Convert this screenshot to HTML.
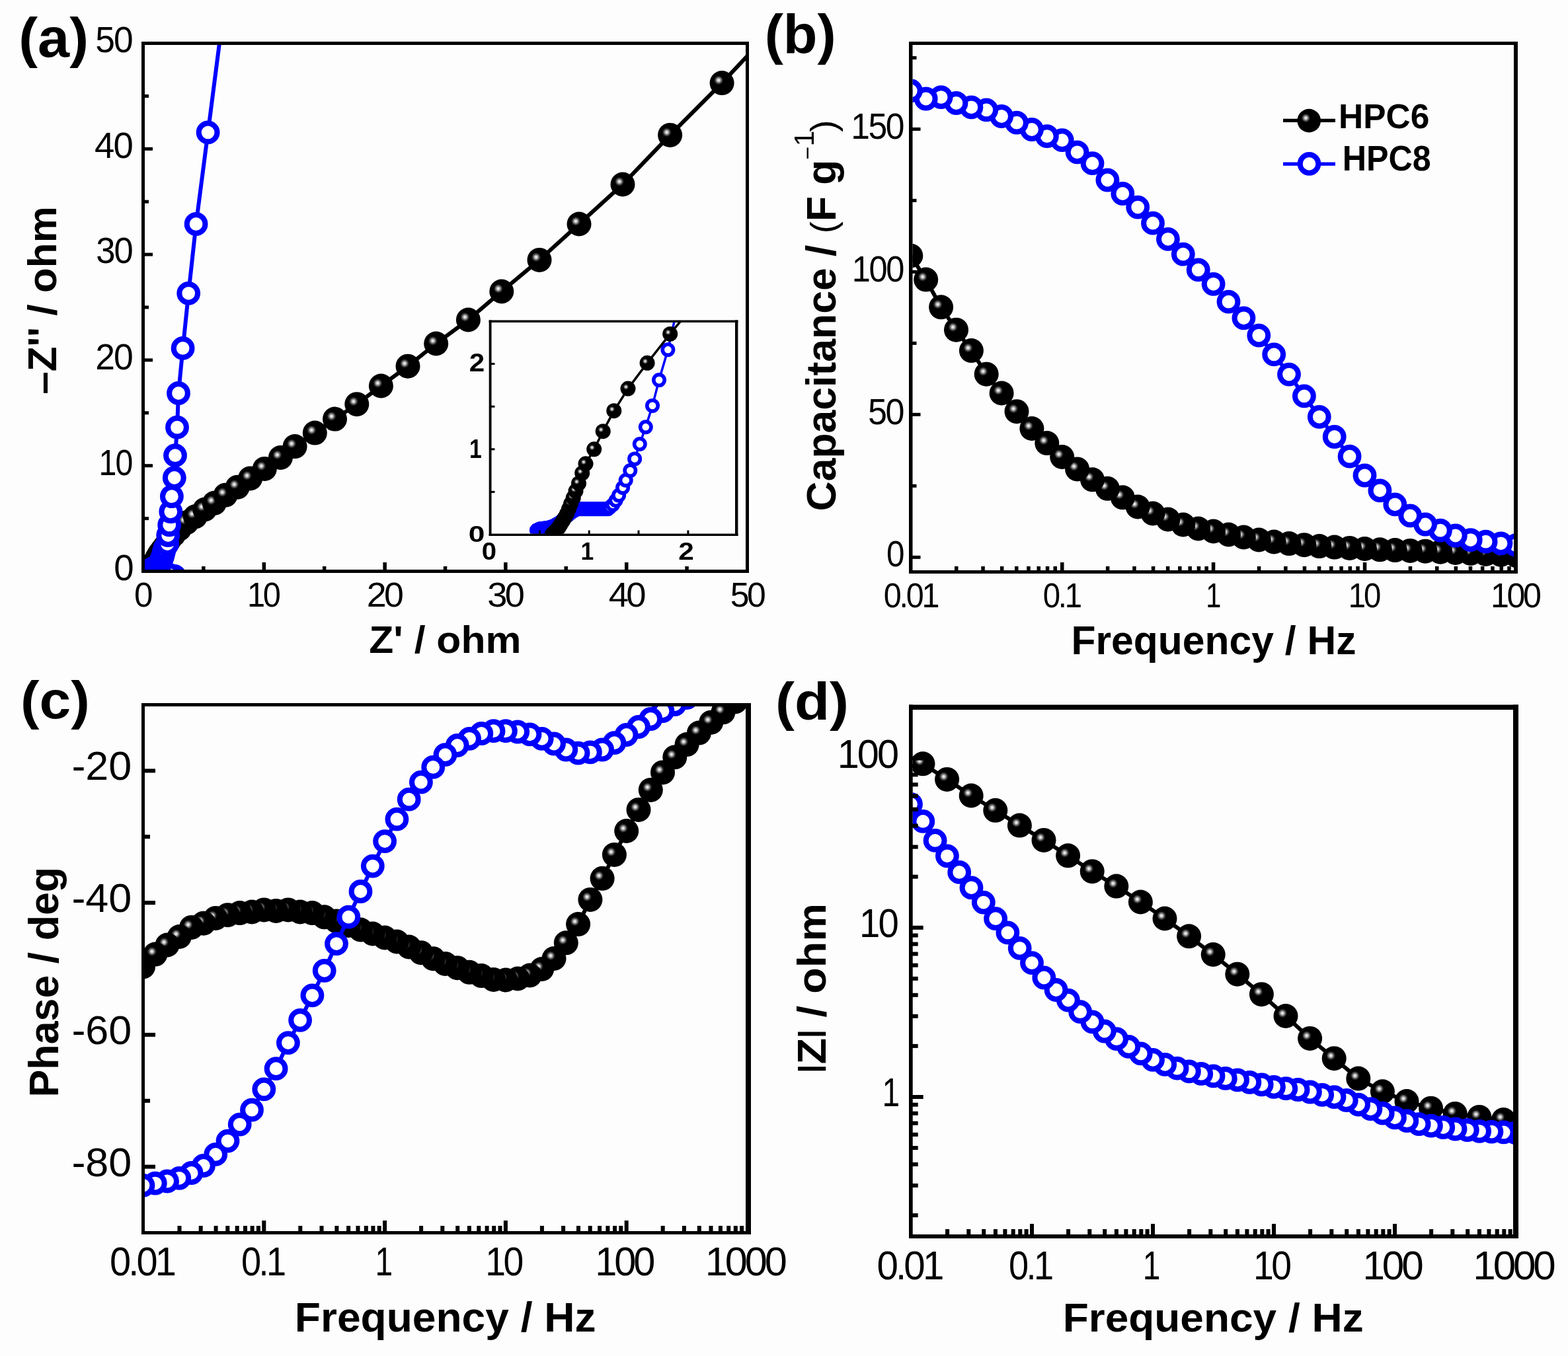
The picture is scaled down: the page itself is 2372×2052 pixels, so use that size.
<!DOCTYPE html><html><head><meta charset="utf-8"><title>EIS figure</title><style>html,body{margin:0;padding:0;background:#fdfdfd;}svg{display:block;} text{font-family:"Liberation Sans", Arial, sans-serif;fill:#000;}</style></head><body>
<svg xmlns="http://www.w3.org/2000/svg" width="2372" height="2052" viewBox="0 0 2372 2052">
<defs><radialGradient id="gb" cx="0.365" cy="0.385" r="0.2" fx="0.365" fy="0.385"><stop offset="0" stop-color="#ffffff"/><stop offset="0.2" stop-color="#dcdcdc"/><stop offset="0.5" stop-color="#7a7a7a"/><stop offset="0.8" stop-color="#1c1c1c"/><stop offset="1" stop-color="#000"/></radialGradient><clipPath id="ca"><rect x="219" y="68" width="909" height="794"/></clipPath><clipPath id="ci"><rect x="743.5" y="488" width="368.5" height="319.6"/></clipPath><clipPath id="cb"><rect x="1380.5" y="68" width="909.5" height="795"/></clipPath><clipPath id="cc"><rect x="219" y="1069" width="909" height="794"/></clipPath><clipPath id="cd"><rect x="1380.7" y="1074" width="908.3" height="794"/></clipPath></defs>
<rect width="2372" height="2052" fill="#fdfdfd"/>
<g clip-path="url(#ca)"><polyline points="227.9,864.5 228.1,864.3 228.3,864.2 228.5,863.9 228.7,863.7 229,863.4 229.3,863 229.6,862.5 229.9,861.9 230.3,861.3 230.7,860.6 231,859.7 231.4,858.7 231.9,857.6 232.3,856.4 232.9,854.9 233.5,853 234.1,851.2 235.7,848.5 237.3,845.2 239.4,841.3 242,837.2 245.5,832.4 249.7,826.9 255.5,818 262.5,809.5 271.5,800.5 282.2,790.8 295.3,781.8 309.8,771 324.3,761.3 341.2,749.2 359.3,737.2 378.6,723.9 400.3,709.4 424.4,692.5 446.1,675.6 476.3,655.1 506.5,634.1 539.8,611.7 576.4,584 617,554.2 659.7,520 708.4,484 758.8,441 816,393.4 876,339 942,279 1013.6,204.4 1092.1,125.6 1135,80" fill="none" stroke="#000" stroke-width="6" stroke-linejoin="round" stroke-linecap="round"/><circle cx="227.9" cy="864.5" r="18.5" fill="url(#gb)"/><circle cx="228.1" cy="864.3" r="18.5" fill="url(#gb)"/><circle cx="228.3" cy="864.2" r="18.5" fill="url(#gb)"/><circle cx="228.5" cy="863.9" r="18.5" fill="url(#gb)"/><circle cx="228.7" cy="863.7" r="18.5" fill="url(#gb)"/><circle cx="229" cy="863.4" r="18.5" fill="url(#gb)"/><circle cx="229.3" cy="863" r="18.5" fill="url(#gb)"/><circle cx="229.6" cy="862.5" r="18.5" fill="url(#gb)"/><circle cx="229.9" cy="861.9" r="18.5" fill="url(#gb)"/><circle cx="230.3" cy="861.3" r="18.5" fill="url(#gb)"/><circle cx="230.7" cy="860.6" r="18.5" fill="url(#gb)"/><circle cx="231" cy="859.7" r="18.5" fill="url(#gb)"/><circle cx="231.4" cy="858.7" r="18.5" fill="url(#gb)"/><circle cx="231.9" cy="857.6" r="18.5" fill="url(#gb)"/><circle cx="232.3" cy="856.4" r="18.5" fill="url(#gb)"/><circle cx="232.9" cy="854.9" r="18.5" fill="url(#gb)"/><circle cx="233.5" cy="853" r="18.5" fill="url(#gb)"/><circle cx="234.1" cy="851.2" r="18.5" fill="url(#gb)"/><circle cx="235.7" cy="848.5" r="18.5" fill="url(#gb)"/><circle cx="237.3" cy="845.2" r="18.5" fill="url(#gb)"/><circle cx="239.4" cy="841.3" r="18.5" fill="url(#gb)"/><circle cx="242" cy="837.2" r="18.5" fill="url(#gb)"/><circle cx="245.5" cy="832.4" r="18.5" fill="url(#gb)"/><circle cx="249.7" cy="826.9" r="18.5" fill="url(#gb)"/><circle cx="255.5" cy="818" r="18.5" fill="url(#gb)"/><circle cx="262.5" cy="809.5" r="18.5" fill="url(#gb)"/><circle cx="271.5" cy="800.5" r="18.5" fill="url(#gb)"/><circle cx="282.2" cy="790.8" r="18.5" fill="url(#gb)"/><circle cx="295.3" cy="781.8" r="18.5" fill="url(#gb)"/><circle cx="309.8" cy="771" r="18.5" fill="url(#gb)"/><circle cx="324.3" cy="761.3" r="18.5" fill="url(#gb)"/><circle cx="341.2" cy="749.2" r="18.5" fill="url(#gb)"/><circle cx="359.3" cy="737.2" r="18.5" fill="url(#gb)"/><circle cx="378.6" cy="723.9" r="18.5" fill="url(#gb)"/><circle cx="400.3" cy="709.4" r="18.5" fill="url(#gb)"/><circle cx="424.4" cy="692.5" r="18.5" fill="url(#gb)"/><circle cx="446.1" cy="675.6" r="18.5" fill="url(#gb)"/><circle cx="476.3" cy="655.1" r="18.5" fill="url(#gb)"/><circle cx="506.5" cy="634.1" r="18.5" fill="url(#gb)"/><circle cx="539.8" cy="611.7" r="18.5" fill="url(#gb)"/><circle cx="576.4" cy="584" r="18.5" fill="url(#gb)"/><circle cx="617" cy="554.2" r="18.5" fill="url(#gb)"/><circle cx="659.7" cy="520" r="18.5" fill="url(#gb)"/><circle cx="708.4" cy="484" r="18.5" fill="url(#gb)"/><circle cx="758.8" cy="441" r="18.5" fill="url(#gb)"/><circle cx="816" cy="393.4" r="18.5" fill="url(#gb)"/><circle cx="876" cy="339" r="18.5" fill="url(#gb)"/><circle cx="942" cy="279" r="18.5" fill="url(#gb)"/><circle cx="1013.6" cy="204.4" r="18.5" fill="url(#gb)"/><circle cx="1092.1" cy="125.6" r="18.5" fill="url(#gb)"/><polyline points="264,872 256.7,870.1 225.1,863.7 225.3,863.6 225.5,863.5 225.6,863.5 225.8,863.4 226.2,863.4 226.6,863.3 227.1,863.2 227.7,863.1 228.2,862.9 228.7,862.6 229.3,862.3 229.8,861.8 230.4,861.3 230.9,860.8 231.5,860.3 232,860 232.4,859.7 232.8,859.7 233.1,859.7 233.5,859.7 233.9,859.7 234.2,859.7 234.6,859.7 235,859.7 235.3,859.7 235.7,859.7 236.1,859.7 236.4,859.7 236.8,859.7 237.2,859.7 237.5,859.7 237.9,859.7 238.3,859.7 238.6,859.4 239.2,858.9 239.7,858.1 240.3,857.1 241,855.7 241.6,854.3 242.4,852.5 243.2,850.3 244.1,847.6 245.2,844.4 246.5,840.4 247.7,835.6 249.3,829.9 253.2,823 254.2,810 256.2,794.4 258.3,774.3 259.9,751.2 263.8,723 265,689.2 268,646.7 270,595 276.6,526.9 285.2,443.8 296.6,339 314.6,200.4 336.5,30" fill="none" stroke="#0000ff" stroke-width="6" stroke-linejoin="round" stroke-linecap="round"/><circle cx="264" cy="872" r="13.9" fill="#fff" stroke="#0000ff" stroke-width="8"/><circle cx="256.7" cy="870.1" r="13.9" fill="#fff" stroke="#0000ff" stroke-width="8"/><circle cx="225.1" cy="863.7" r="13.9" fill="#fff" stroke="#0000ff" stroke-width="8"/><circle cx="225.3" cy="863.6" r="13.9" fill="#fff" stroke="#0000ff" stroke-width="8"/><circle cx="225.5" cy="863.5" r="13.9" fill="#fff" stroke="#0000ff" stroke-width="8"/><circle cx="225.6" cy="863.5" r="13.9" fill="#fff" stroke="#0000ff" stroke-width="8"/><circle cx="225.8" cy="863.4" r="13.9" fill="#fff" stroke="#0000ff" stroke-width="8"/><circle cx="226.2" cy="863.4" r="13.9" fill="#fff" stroke="#0000ff" stroke-width="8"/><circle cx="226.6" cy="863.3" r="13.9" fill="#fff" stroke="#0000ff" stroke-width="8"/><circle cx="227.1" cy="863.2" r="13.9" fill="#fff" stroke="#0000ff" stroke-width="8"/><circle cx="227.7" cy="863.1" r="13.9" fill="#fff" stroke="#0000ff" stroke-width="8"/><circle cx="228.2" cy="862.9" r="13.9" fill="#fff" stroke="#0000ff" stroke-width="8"/><circle cx="228.7" cy="862.6" r="13.9" fill="#fff" stroke="#0000ff" stroke-width="8"/><circle cx="229.3" cy="862.3" r="13.9" fill="#fff" stroke="#0000ff" stroke-width="8"/><circle cx="229.8" cy="861.8" r="13.9" fill="#fff" stroke="#0000ff" stroke-width="8"/><circle cx="230.4" cy="861.3" r="13.9" fill="#fff" stroke="#0000ff" stroke-width="8"/><circle cx="230.9" cy="860.8" r="13.9" fill="#fff" stroke="#0000ff" stroke-width="8"/><circle cx="231.5" cy="860.3" r="13.9" fill="#fff" stroke="#0000ff" stroke-width="8"/><circle cx="232" cy="860" r="13.9" fill="#fff" stroke="#0000ff" stroke-width="8"/><circle cx="232.4" cy="859.7" r="13.9" fill="#fff" stroke="#0000ff" stroke-width="8"/><circle cx="232.8" cy="859.7" r="13.9" fill="#fff" stroke="#0000ff" stroke-width="8"/><circle cx="233.1" cy="859.7" r="13.9" fill="#fff" stroke="#0000ff" stroke-width="8"/><circle cx="233.5" cy="859.7" r="13.9" fill="#fff" stroke="#0000ff" stroke-width="8"/><circle cx="233.9" cy="859.7" r="13.9" fill="#fff" stroke="#0000ff" stroke-width="8"/><circle cx="234.2" cy="859.7" r="13.9" fill="#fff" stroke="#0000ff" stroke-width="8"/><circle cx="234.6" cy="859.7" r="13.9" fill="#fff" stroke="#0000ff" stroke-width="8"/><circle cx="235" cy="859.7" r="13.9" fill="#fff" stroke="#0000ff" stroke-width="8"/><circle cx="235.3" cy="859.7" r="13.9" fill="#fff" stroke="#0000ff" stroke-width="8"/><circle cx="235.7" cy="859.7" r="13.9" fill="#fff" stroke="#0000ff" stroke-width="8"/><circle cx="236.1" cy="859.7" r="13.9" fill="#fff" stroke="#0000ff" stroke-width="8"/><circle cx="236.4" cy="859.7" r="13.9" fill="#fff" stroke="#0000ff" stroke-width="8"/><circle cx="236.8" cy="859.7" r="13.9" fill="#fff" stroke="#0000ff" stroke-width="8"/><circle cx="237.2" cy="859.7" r="13.9" fill="#fff" stroke="#0000ff" stroke-width="8"/><circle cx="237.5" cy="859.7" r="13.9" fill="#fff" stroke="#0000ff" stroke-width="8"/><circle cx="237.9" cy="859.7" r="13.9" fill="#fff" stroke="#0000ff" stroke-width="8"/><circle cx="238.3" cy="859.7" r="13.9" fill="#fff" stroke="#0000ff" stroke-width="8"/><circle cx="238.6" cy="859.4" r="13.9" fill="#fff" stroke="#0000ff" stroke-width="8"/><circle cx="239.2" cy="858.9" r="13.9" fill="#fff" stroke="#0000ff" stroke-width="8"/><circle cx="239.7" cy="858.1" r="13.9" fill="#fff" stroke="#0000ff" stroke-width="8"/><circle cx="240.3" cy="857.1" r="13.9" fill="#fff" stroke="#0000ff" stroke-width="8"/><circle cx="241" cy="855.7" r="13.9" fill="#fff" stroke="#0000ff" stroke-width="8"/><circle cx="241.6" cy="854.3" r="13.9" fill="#fff" stroke="#0000ff" stroke-width="8"/><circle cx="242.4" cy="852.5" r="13.9" fill="#fff" stroke="#0000ff" stroke-width="8"/><circle cx="243.2" cy="850.3" r="13.9" fill="#fff" stroke="#0000ff" stroke-width="8"/><circle cx="244.1" cy="847.6" r="13.9" fill="#fff" stroke="#0000ff" stroke-width="8"/><circle cx="245.2" cy="844.4" r="13.9" fill="#fff" stroke="#0000ff" stroke-width="8"/><circle cx="246.5" cy="840.4" r="13.9" fill="#fff" stroke="#0000ff" stroke-width="8"/><circle cx="247.7" cy="835.6" r="13.9" fill="#fff" stroke="#0000ff" stroke-width="8"/><circle cx="249.3" cy="829.9" r="13.9" fill="#fff" stroke="#0000ff" stroke-width="8"/><circle cx="253.2" cy="823" r="13.9" fill="#fff" stroke="#0000ff" stroke-width="8"/><circle cx="254.2" cy="810" r="13.9" fill="#fff" stroke="#0000ff" stroke-width="8"/><circle cx="256.2" cy="794.4" r="13.9" fill="#fff" stroke="#0000ff" stroke-width="8"/><circle cx="258.3" cy="774.3" r="13.9" fill="#fff" stroke="#0000ff" stroke-width="8"/><circle cx="259.9" cy="751.2" r="13.9" fill="#fff" stroke="#0000ff" stroke-width="8"/><circle cx="263.8" cy="723" r="13.9" fill="#fff" stroke="#0000ff" stroke-width="8"/><circle cx="265" cy="689.2" r="13.9" fill="#fff" stroke="#0000ff" stroke-width="8"/><circle cx="268" cy="646.7" r="13.9" fill="#fff" stroke="#0000ff" stroke-width="8"/><circle cx="270" cy="595" r="13.9" fill="#fff" stroke="#0000ff" stroke-width="8"/><circle cx="276.6" cy="526.9" r="13.9" fill="#fff" stroke="#0000ff" stroke-width="8"/><circle cx="285.2" cy="443.8" r="13.9" fill="#fff" stroke="#0000ff" stroke-width="8"/><circle cx="296.6" cy="339" r="13.9" fill="#fff" stroke="#0000ff" stroke-width="8"/><circle cx="314.6" cy="200.4" r="13.9" fill="#fff" stroke="#0000ff" stroke-width="8"/><circle cx="336.5" cy="30" r="13.9" fill="#fff" stroke="#0000ff" stroke-width="8"/></g>
<rect x="741.5" y="486" width="372.5" height="323" fill="#fdfdfd"/>
<g clip-path="url(#ci)"><polyline points="811.9,802.5 813.4,801.9 814.9,801.2 816.4,800.6 817.8,800 820.8,800 823.8,799.3 828.3,798.7 832.8,797.4 837.3,796.1 841.8,793.5 846.3,790.9 850.8,787 855.3,783.2 859.8,779.3 864.3,775.4 868.7,772.8 871.7,770.2 874.7,770.2 877.7,770.2 880.7,770.2 883.7,770.2 886.7,770.2 889.7,770.2 892.7,770.2 895.7,770.2 898.7,770.2 901.7,770.2 904.7,770.2 907.7,770.2 910.7,770.2 913.7,770.2 916.6,770.2 919.6,770.2 922.6,767.7 927.1,763.8 931.6,757.3 936.1,749.6 942.1,737.9 946.7,726.7 953.3,712.1 960.1,694.4 967.8,672 976.8,646.2 987,613.9 997,575.1 1010.4,529.2 1025.9,460.2" fill="none" stroke="#0000ff" stroke-width="3.5" stroke-linejoin="round" stroke-linecap="round"/><circle cx="811.9" cy="802.5" r="8.2" fill="#fff" stroke="#0000ff" stroke-width="5.6"/><circle cx="813.4" cy="801.9" r="8.2" fill="#fff" stroke="#0000ff" stroke-width="5.6"/><circle cx="814.9" cy="801.2" r="8.2" fill="#fff" stroke="#0000ff" stroke-width="5.6"/><circle cx="816.4" cy="800.6" r="8.2" fill="#fff" stroke="#0000ff" stroke-width="5.6"/><circle cx="817.8" cy="800" r="8.2" fill="#fff" stroke="#0000ff" stroke-width="5.6"/><circle cx="820.8" cy="800" r="8.2" fill="#fff" stroke="#0000ff" stroke-width="5.6"/><circle cx="823.8" cy="799.3" r="8.2" fill="#fff" stroke="#0000ff" stroke-width="5.6"/><circle cx="828.3" cy="798.7" r="8.2" fill="#fff" stroke="#0000ff" stroke-width="5.6"/><circle cx="832.8" cy="797.4" r="8.2" fill="#fff" stroke="#0000ff" stroke-width="5.6"/><circle cx="837.3" cy="796.1" r="8.2" fill="#fff" stroke="#0000ff" stroke-width="5.6"/><circle cx="841.8" cy="793.5" r="8.2" fill="#fff" stroke="#0000ff" stroke-width="5.6"/><circle cx="846.3" cy="790.9" r="8.2" fill="#fff" stroke="#0000ff" stroke-width="5.6"/><circle cx="850.8" cy="787" r="8.2" fill="#fff" stroke="#0000ff" stroke-width="5.6"/><circle cx="855.3" cy="783.2" r="8.2" fill="#fff" stroke="#0000ff" stroke-width="5.6"/><circle cx="859.8" cy="779.3" r="8.2" fill="#fff" stroke="#0000ff" stroke-width="5.6"/><circle cx="864.3" cy="775.4" r="8.2" fill="#fff" stroke="#0000ff" stroke-width="5.6"/><circle cx="868.7" cy="772.8" r="8.2" fill="#fff" stroke="#0000ff" stroke-width="5.6"/><circle cx="871.7" cy="770.2" r="8.2" fill="#fff" stroke="#0000ff" stroke-width="5.6"/><circle cx="874.7" cy="770.2" r="8.2" fill="#fff" stroke="#0000ff" stroke-width="5.6"/><circle cx="877.7" cy="770.2" r="8.2" fill="#fff" stroke="#0000ff" stroke-width="5.6"/><circle cx="880.7" cy="770.2" r="8.2" fill="#fff" stroke="#0000ff" stroke-width="5.6"/><circle cx="883.7" cy="770.2" r="8.2" fill="#fff" stroke="#0000ff" stroke-width="5.6"/><circle cx="886.7" cy="770.2" r="8.2" fill="#fff" stroke="#0000ff" stroke-width="5.6"/><circle cx="889.7" cy="770.2" r="8.2" fill="#fff" stroke="#0000ff" stroke-width="5.6"/><circle cx="892.7" cy="770.2" r="8.2" fill="#fff" stroke="#0000ff" stroke-width="5.6"/><circle cx="895.7" cy="770.2" r="8.2" fill="#fff" stroke="#0000ff" stroke-width="5.6"/><circle cx="898.7" cy="770.2" r="8.2" fill="#fff" stroke="#0000ff" stroke-width="5.6"/><circle cx="901.7" cy="770.2" r="8.2" fill="#fff" stroke="#0000ff" stroke-width="5.6"/><circle cx="904.7" cy="770.2" r="8.2" fill="#fff" stroke="#0000ff" stroke-width="5.6"/><circle cx="907.7" cy="770.2" r="8.2" fill="#fff" stroke="#0000ff" stroke-width="5.6"/><circle cx="910.7" cy="770.2" r="8.2" fill="#fff" stroke="#0000ff" stroke-width="5.6"/><circle cx="913.7" cy="770.2" r="8.2" fill="#fff" stroke="#0000ff" stroke-width="5.6"/><circle cx="916.6" cy="770.2" r="8.2" fill="#fff" stroke="#0000ff" stroke-width="5.6"/><circle cx="919.6" cy="770.2" r="8.2" fill="#fff" stroke="#0000ff" stroke-width="5.6"/><circle cx="922.6" cy="767.7" r="8.2" fill="#fff" stroke="#0000ff" stroke-width="5.6"/><circle cx="927.1" cy="763.8" r="8.2" fill="#fff" stroke="#0000ff" stroke-width="5.6"/><circle cx="931.6" cy="757.3" r="8.2" fill="#fff" stroke="#0000ff" stroke-width="5.6"/><circle cx="936.1" cy="749.6" r="8.2" fill="#fff" stroke="#0000ff" stroke-width="5.6"/><circle cx="942.1" cy="737.9" r="8.2" fill="#fff" stroke="#0000ff" stroke-width="5.6"/><circle cx="946.7" cy="726.7" r="8.2" fill="#fff" stroke="#0000ff" stroke-width="5.6"/><circle cx="953.3" cy="712.1" r="8.2" fill="#fff" stroke="#0000ff" stroke-width="5.6"/><circle cx="960.1" cy="694.4" r="8.2" fill="#fff" stroke="#0000ff" stroke-width="5.6"/><circle cx="967.8" cy="672" r="8.2" fill="#fff" stroke="#0000ff" stroke-width="5.6"/><circle cx="976.8" cy="646.2" r="8.2" fill="#fff" stroke="#0000ff" stroke-width="5.6"/><circle cx="987" cy="613.9" r="8.2" fill="#fff" stroke="#0000ff" stroke-width="5.6"/><circle cx="997" cy="575.1" r="8.2" fill="#fff" stroke="#0000ff" stroke-width="5.6"/><circle cx="1010.4" cy="529.2" r="8.2" fill="#fff" stroke="#0000ff" stroke-width="5.6"/><circle cx="1025.9" cy="460.2" r="8.2" fill="#fff" stroke="#0000ff" stroke-width="5.6"/><polyline points="835.1,809 836.6,807.7 838.1,806.4 839.6,804.5 841.8,802.5 844,800 846.3,796.7 848.5,792.9 851.5,788.3 854.5,783.2 857.5,777.3 860.5,770.2 863.5,762.5 867.2,753.4 871,743.1 875.5,731.5 880.7,716 886,701.8 898.7,679.8 912.2,652.7 928.8,621.7 950,588.1 979.1,549.3 1013.7,505.4 1052.9,457.6" fill="none" stroke="#000" stroke-width="3.5" stroke-linejoin="round" stroke-linecap="round"/><circle cx="835.1" cy="809" r="11.5" fill="url(#gb)"/><circle cx="836.6" cy="807.7" r="11.5" fill="url(#gb)"/><circle cx="838.1" cy="806.4" r="11.5" fill="url(#gb)"/><circle cx="839.6" cy="804.5" r="11.5" fill="url(#gb)"/><circle cx="841.8" cy="802.5" r="11.5" fill="url(#gb)"/><circle cx="844" cy="800" r="11.5" fill="url(#gb)"/><circle cx="846.3" cy="796.7" r="11.5" fill="url(#gb)"/><circle cx="848.5" cy="792.9" r="11.5" fill="url(#gb)"/><circle cx="851.5" cy="788.3" r="11.5" fill="url(#gb)"/><circle cx="854.5" cy="783.2" r="11.5" fill="url(#gb)"/><circle cx="857.5" cy="777.3" r="11.5" fill="url(#gb)"/><circle cx="860.5" cy="770.2" r="11.5" fill="url(#gb)"/><circle cx="863.5" cy="762.5" r="11.5" fill="url(#gb)"/><circle cx="867.2" cy="753.4" r="11.5" fill="url(#gb)"/><circle cx="871" cy="743.1" r="11.5" fill="url(#gb)"/><circle cx="875.5" cy="731.5" r="11.5" fill="url(#gb)"/><circle cx="880.7" cy="716" r="11.5" fill="url(#gb)"/><circle cx="886" cy="701.8" r="11.5" fill="url(#gb)"/><circle cx="898.7" cy="679.8" r="11.5" fill="url(#gb)"/><circle cx="912.2" cy="652.7" r="11.5" fill="url(#gb)"/><circle cx="928.8" cy="621.7" r="11.5" fill="url(#gb)"/><circle cx="950" cy="588.1" r="11.5" fill="url(#gb)"/><circle cx="979.1" cy="549.3" r="11.5" fill="url(#gb)"/><circle cx="1013.7" cy="505.4" r="11.5" fill="url(#gb)"/><circle cx="1052.9" cy="457.6" r="11.5" fill="url(#gb)"/></g>
<g fill="#000"><rect x="739.7" y="484.5" width="376.70000000000005" height="3.5"/><rect x="739.7" y="807.6" width="376.70000000000005" height="3.3999999999999773"/><rect x="739.7" y="484.5" width="3.7999999999999545" height="326.5"/><rect x="1112" y="484.5" width="4.400000000000091" height="326.5"/></g>
<g fill="#000"><rect x="814.9" y="802.6" width="3" height="7"/><rect x="889.7" y="802.6" width="3" height="7"/><rect x="964.5" y="802.6" width="3" height="7"/><rect x="1039.4" y="802.6" width="3" height="7"/></g>
<g fill="#000"><rect x="741.5" y="742.9" width="7" height="3"/><rect x="741.5" y="678.3" width="7" height="3"/><rect x="741.5" y="613.7" width="7" height="3"/><rect x="741.5" y="549.1" width="7" height="3"/></g>
<g transform="matrix(1.0556,0,0,0.9926,-42.72,6.57)"><text x="741.5" y="847" text-anchor="middle" style="font-size:38px;font-weight:bold;">0</text></g>
<g transform="matrix(0.9333,0,0,0.9926,56.67,6.57)"><text x="891.2" y="847" text-anchor="middle" style="font-size:38px;font-weight:bold;">1</text></g>
<g transform="matrix(1.1167,0,0,0.9926,-124.20,6.57)"><text x="1040.9" y="847" text-anchor="middle" style="font-size:38px;font-weight:bold;">2</text></g>
<g transform="matrix(1.1667,0,0,0.9074,-120.67,75.52)"><text x="732" y="821" text-anchor="end" style="font-size:38px;font-weight:bold;">0</text></g>
<g transform="matrix(0.8889,0,0,1.0741,78.22,-50.26)"><text x="732" y="691.8" text-anchor="end" style="font-size:38px;font-weight:bold;">1</text></g>
<g transform="matrix(1.1111,0,0,1.0370,-80.11,-21.15)"><text x="732" y="562.6" text-anchor="end" style="font-size:38px;font-weight:bold;">2</text></g>
<g fill="#000"><rect x="214" y="63" width="919" height="5"/><rect x="214" y="862" width="919" height="5"/><rect x="214" y="63" width="5" height="804"/><rect x="1128" y="63" width="5" height="804"/></g>
<g fill="#000"><rect x="396.6" y="851" width="5.5" height="13"/><rect x="579.4" y="851" width="5.5" height="13"/><rect x="762.1" y="851" width="5.5" height="13"/><rect x="945" y="851" width="5.5" height="13"/></g>
<g fill="#000"><rect x="305.1" y="857" width="5.5" height="7"/><rect x="487.9" y="857" width="5.5" height="7"/><rect x="670.8" y="857" width="5.5" height="7"/><rect x="853.5" y="857" width="5.5" height="7"/><rect x="1036.3" y="857" width="5.5" height="7"/></g>
<g fill="#000"><rect x="217" y="702.2" width="14" height="5"/><rect x="217" y="542.4" width="14" height="5"/><rect x="217" y="382.6" width="14" height="5"/><rect x="217" y="222.8" width="14" height="5"/></g>
<g fill="#000"><rect x="217" y="782.1" width="8" height="5"/><rect x="217" y="622.3" width="8" height="5"/><rect x="217" y="462.5" width="8" height="5"/><rect x="217" y="302.7" width="8" height="5"/><rect x="217" y="142.9" width="8" height="5"/></g>
<g transform="matrix(0.9840,0,0,1.0111,2.50,-10.51)"><text x="216.5" y="918.5" text-anchor="middle" style="font-size:52px;font-weight:normal;letter-spacing:-3.5px;">0</text></g>
<g transform="matrix(0.9375,0,0,1.0111,23.43,-10.51)"><text x="399.3" y="918.5" text-anchor="middle" style="font-size:52px;font-weight:normal;letter-spacing:-3.5px;">10</text></g>
<g transform="matrix(1.0340,0,0,1.0111,-20.76,-10.51)"><text x="582.1" y="918.5" text-anchor="middle" style="font-size:52px;font-weight:normal;letter-spacing:-3.5px;">20</text></g>
<g transform="matrix(1.0440,0,0,1.0111,-34.85,-10.51)"><text x="764.9" y="918.5" text-anchor="middle" style="font-size:52px;font-weight:normal;letter-spacing:-3.5px;">30</text></g>
<g transform="matrix(1.0481,0,0,1.0111,-45.92,-10.51)"><text x="947.7" y="918.5" text-anchor="middle" style="font-size:52px;font-weight:normal;letter-spacing:-3.5px;">40</text></g>
<g transform="matrix(0.9960,0,0,1.0111,4.03,-10.51)"><text x="1130.5" y="918.5" text-anchor="middle" style="font-size:52px;font-weight:normal;letter-spacing:-3.5px;">50</text></g>
<g transform="matrix(1.0120,0,0,1.0378,-4.72,-33.02)"><text x="203" y="878" text-anchor="end" style="font-size:54px;font-weight:normal;letter-spacing:-2px;">0</text></g>
<g transform="matrix(0.8942,0,0,1.0378,18.17,-26.77)"><text x="203" y="718.2" text-anchor="end" style="font-size:54px;font-weight:normal;letter-spacing:-2px;">10</text></g>
<g transform="matrix(0.9906,0,0,1.0378,-1.38,-20.51)"><text x="203" y="558.4" text-anchor="end" style="font-size:54px;font-weight:normal;letter-spacing:-2px;">20</text></g>
<g transform="matrix(0.9722,0,0,1.0378,2.34,-15.30)"><text x="203" y="398.6" text-anchor="end" style="font-size:54px;font-weight:normal;letter-spacing:-2px;">30</text></g>
<g transform="matrix(1.0091,0,0,1.0378,-5.15,-9.04)"><text x="203" y="238.8" text-anchor="end" style="font-size:54px;font-weight:normal;letter-spacing:-2px;">40</text></g>
<g transform="matrix(0.9870,0,0,1.0378,-0.67,-2.79)"><text x="203" y="79" text-anchor="end" style="font-size:54px;font-weight:normal;letter-spacing:-2px;">50</text></g>
<g transform="matrix(1.0117,0,0,0.9545,-7.77,43.45)"><text x="559.5" y="989.6" text-anchor="start" style="font-size:60px;font-weight:bold;">Z' / ohm</text></g>
<g transform="matrix(1.0022,0,0,1.0175,-1.39,-9.21)"><text transform="translate(86,595.6) rotate(-90)" x="0" y="0" text-anchor="start" style="font-size:61px;font-weight:bold;">–Z'' / ohm</text></g>
<g transform="matrix(1.0309,0,0,0.9885,-4.71,-0.79)"><text x="31.9" y="87.5" text-anchor="start" style="font-size:84px;font-weight:bold;">(a)</text></g>
<g clip-path="url(#cb)"><polyline points="1377.8,387 1400.7,423.1 1423.6,464.8 1446.5,499.2 1469.4,530.6 1492.2,566.2 1515.1,595 1538,622.7 1560.9,648.5 1583.8,670.6 1606.7,691.5 1629.6,709.9 1652.5,725.8 1675.4,739.3 1698.3,752.8 1721.2,767 1744,777 1766.9,786 1789.8,794 1812.7,800 1835.6,804 1858.5,809 1881.4,813 1904.3,817 1927.2,820 1950,822.6 1972.9,824.7 1995.8,826.6 2018.7,828.1 2041.6,829.4 2064.5,830.5 2087.4,831.8 2110.3,832.6 2133.2,833.4 2156.1,834.2 2178.9,835.2 2201.8,836.5 2224.7,837.5 2247.6,838.5 2270.5,839.5 2293.4,840.5" fill="none" stroke="#000" stroke-width="6" stroke-linejoin="round" stroke-linecap="round"/><circle cx="2293.4" cy="840.5" r="18.5" fill="url(#gb)"/><circle cx="2270.5" cy="839.5" r="18.5" fill="url(#gb)"/><circle cx="2247.6" cy="838.5" r="18.5" fill="url(#gb)"/><circle cx="2224.7" cy="837.5" r="18.5" fill="url(#gb)"/><circle cx="2201.8" cy="836.5" r="18.5" fill="url(#gb)"/><circle cx="2178.9" cy="835.2" r="18.5" fill="url(#gb)"/><circle cx="2156.1" cy="834.2" r="18.5" fill="url(#gb)"/><circle cx="2133.2" cy="833.4" r="18.5" fill="url(#gb)"/><circle cx="2110.3" cy="832.6" r="18.5" fill="url(#gb)"/><circle cx="2087.4" cy="831.8" r="18.5" fill="url(#gb)"/><circle cx="2064.5" cy="830.5" r="18.5" fill="url(#gb)"/><circle cx="2041.6" cy="829.4" r="18.5" fill="url(#gb)"/><circle cx="2018.7" cy="828.1" r="18.5" fill="url(#gb)"/><circle cx="1995.8" cy="826.6" r="18.5" fill="url(#gb)"/><circle cx="1972.9" cy="824.7" r="18.5" fill="url(#gb)"/><circle cx="1950" cy="822.6" r="18.5" fill="url(#gb)"/><circle cx="1927.2" cy="820" r="18.5" fill="url(#gb)"/><circle cx="1904.3" cy="817" r="18.5" fill="url(#gb)"/><circle cx="1881.4" cy="813" r="18.5" fill="url(#gb)"/><circle cx="1858.5" cy="809" r="18.5" fill="url(#gb)"/><circle cx="1835.6" cy="804" r="18.5" fill="url(#gb)"/><circle cx="1812.7" cy="800" r="18.5" fill="url(#gb)"/><circle cx="1789.8" cy="794" r="18.5" fill="url(#gb)"/><circle cx="1766.9" cy="786" r="18.5" fill="url(#gb)"/><circle cx="1744" cy="777" r="18.5" fill="url(#gb)"/><circle cx="1721.2" cy="767" r="18.5" fill="url(#gb)"/><circle cx="1698.3" cy="752.8" r="18.5" fill="url(#gb)"/><circle cx="1675.4" cy="739.3" r="18.5" fill="url(#gb)"/><circle cx="1652.5" cy="725.8" r="18.5" fill="url(#gb)"/><circle cx="1629.6" cy="709.9" r="18.5" fill="url(#gb)"/><circle cx="1606.7" cy="691.5" r="18.5" fill="url(#gb)"/><circle cx="1583.8" cy="670.6" r="18.5" fill="url(#gb)"/><circle cx="1560.9" cy="648.5" r="18.5" fill="url(#gb)"/><circle cx="1538" cy="622.7" r="18.5" fill="url(#gb)"/><circle cx="1515.1" cy="595" r="18.5" fill="url(#gb)"/><circle cx="1492.2" cy="566.2" r="18.5" fill="url(#gb)"/><circle cx="1469.4" cy="530.6" r="18.5" fill="url(#gb)"/><circle cx="1446.5" cy="499.2" r="18.5" fill="url(#gb)"/><circle cx="1423.6" cy="464.8" r="18.5" fill="url(#gb)"/><circle cx="1400.7" cy="423.1" r="18.5" fill="url(#gb)"/><circle cx="1377.8" cy="387" r="18.5" fill="url(#gb)"/><polyline points="1377.8,137.4 1400.7,149.5 1423.6,147.1 1446.5,156 1469.4,162.3 1492.2,166.4 1515.1,176 1538,185.7 1560.9,196 1583.8,206.2 1606.7,212.2 1629.6,230.3 1652.5,247.2 1675.4,272.5 1698.3,293 1721.2,313.6 1744,337.7 1766.9,361.8 1789.8,384.7 1812.7,408.4 1835.6,429.8 1858.5,456.7 1881.4,481.3 1904.3,507.6 1927.2,536.4 1950,566.6 1972.9,599.4 1995.8,630.8 2018.7,661 2041.6,690.7 2064.5,719.5 2087.4,742.3 2110.3,763.3 2133.2,780.4 2156.1,793.5 2178.9,802.7 2201.8,810.5 2224.7,817.1 2247.6,819.7 2270.5,822.3 2293.4,825" fill="none" stroke="#0000ff" stroke-width="6" stroke-linejoin="round" stroke-linecap="round"/><circle cx="2293.4" cy="825" r="13.9" fill="#fff" stroke="#0000ff" stroke-width="8"/><circle cx="2270.5" cy="822.3" r="13.9" fill="#fff" stroke="#0000ff" stroke-width="8"/><circle cx="2247.6" cy="819.7" r="13.9" fill="#fff" stroke="#0000ff" stroke-width="8"/><circle cx="2224.7" cy="817.1" r="13.9" fill="#fff" stroke="#0000ff" stroke-width="8"/><circle cx="2201.8" cy="810.5" r="13.9" fill="#fff" stroke="#0000ff" stroke-width="8"/><circle cx="2178.9" cy="802.7" r="13.9" fill="#fff" stroke="#0000ff" stroke-width="8"/><circle cx="2156.1" cy="793.5" r="13.9" fill="#fff" stroke="#0000ff" stroke-width="8"/><circle cx="2133.2" cy="780.4" r="13.9" fill="#fff" stroke="#0000ff" stroke-width="8"/><circle cx="2110.3" cy="763.3" r="13.9" fill="#fff" stroke="#0000ff" stroke-width="8"/><circle cx="2087.4" cy="742.3" r="13.9" fill="#fff" stroke="#0000ff" stroke-width="8"/><circle cx="2064.5" cy="719.5" r="13.9" fill="#fff" stroke="#0000ff" stroke-width="8"/><circle cx="2041.6" cy="690.7" r="13.9" fill="#fff" stroke="#0000ff" stroke-width="8"/><circle cx="2018.7" cy="661" r="13.9" fill="#fff" stroke="#0000ff" stroke-width="8"/><circle cx="1995.8" cy="630.8" r="13.9" fill="#fff" stroke="#0000ff" stroke-width="8"/><circle cx="1972.9" cy="599.4" r="13.9" fill="#fff" stroke="#0000ff" stroke-width="8"/><circle cx="1950" cy="566.6" r="13.9" fill="#fff" stroke="#0000ff" stroke-width="8"/><circle cx="1927.2" cy="536.4" r="13.9" fill="#fff" stroke="#0000ff" stroke-width="8"/><circle cx="1904.3" cy="507.6" r="13.9" fill="#fff" stroke="#0000ff" stroke-width="8"/><circle cx="1881.4" cy="481.3" r="13.9" fill="#fff" stroke="#0000ff" stroke-width="8"/><circle cx="1858.5" cy="456.7" r="13.9" fill="#fff" stroke="#0000ff" stroke-width="8"/><circle cx="1835.6" cy="429.8" r="13.9" fill="#fff" stroke="#0000ff" stroke-width="8"/><circle cx="1812.7" cy="408.4" r="13.9" fill="#fff" stroke="#0000ff" stroke-width="8"/><circle cx="1789.8" cy="384.7" r="13.9" fill="#fff" stroke="#0000ff" stroke-width="8"/><circle cx="1766.9" cy="361.8" r="13.9" fill="#fff" stroke="#0000ff" stroke-width="8"/><circle cx="1744" cy="337.7" r="13.9" fill="#fff" stroke="#0000ff" stroke-width="8"/><circle cx="1721.2" cy="313.6" r="13.9" fill="#fff" stroke="#0000ff" stroke-width="8"/><circle cx="1698.3" cy="293" r="13.9" fill="#fff" stroke="#0000ff" stroke-width="8"/><circle cx="1675.4" cy="272.5" r="13.9" fill="#fff" stroke="#0000ff" stroke-width="8"/><circle cx="1652.5" cy="247.2" r="13.9" fill="#fff" stroke="#0000ff" stroke-width="8"/><circle cx="1629.6" cy="230.3" r="13.9" fill="#fff" stroke="#0000ff" stroke-width="8"/><circle cx="1606.7" cy="212.2" r="13.9" fill="#fff" stroke="#0000ff" stroke-width="8"/><circle cx="1583.8" cy="206.2" r="13.9" fill="#fff" stroke="#0000ff" stroke-width="8"/><circle cx="1560.9" cy="196" r="13.9" fill="#fff" stroke="#0000ff" stroke-width="8"/><circle cx="1538" cy="185.7" r="13.9" fill="#fff" stroke="#0000ff" stroke-width="8"/><circle cx="1515.1" cy="176" r="13.9" fill="#fff" stroke="#0000ff" stroke-width="8"/><circle cx="1492.2" cy="166.4" r="13.9" fill="#fff" stroke="#0000ff" stroke-width="8"/><circle cx="1469.4" cy="162.3" r="13.9" fill="#fff" stroke="#0000ff" stroke-width="8"/><circle cx="1446.5" cy="156" r="13.9" fill="#fff" stroke="#0000ff" stroke-width="8"/><circle cx="1423.6" cy="147.1" r="13.9" fill="#fff" stroke="#0000ff" stroke-width="8"/><circle cx="1400.7" cy="149.5" r="13.9" fill="#fff" stroke="#0000ff" stroke-width="8"/><circle cx="1377.8" cy="137.4" r="13.9" fill="#fff" stroke="#0000ff" stroke-width="8"/></g>
<g fill="#000"><rect x="1375" y="63" width="921" height="5"/><rect x="1375" y="863" width="921" height="5"/><rect x="1375" y="63" width="5.5" height="805"/><rect x="2290" y="63" width="6" height="805"/></g>
<g fill="#000"><rect x="1378.5" y="840.8" width="14" height="5"/><rect x="1378.5" y="624.8" width="14" height="5"/><rect x="1378.5" y="408.9" width="14" height="5"/><rect x="1378.5" y="192.9" width="14" height="5"/></g>
<g fill="#000"><rect x="1378.5" y="732.8" width="8" height="5"/><rect x="1378.5" y="516.9" width="8" height="5"/><rect x="1378.5" y="300.9" width="8" height="5"/><rect x="1378.5" y="85" width="8" height="5"/></g>
<g fill="#000"><rect x="1604" y="851" width="5.5" height="14"/><rect x="1832.8" y="851" width="5.5" height="14"/><rect x="2061.8" y="851" width="5.5" height="14"/></g>
<g fill="#000"><rect x="1444" y="857" width="5.5" height="8"/><rect x="1484.3" y="857" width="5.5" height="8"/><rect x="1512.9" y="857" width="5.5" height="8"/><rect x="1535" y="857" width="5.5" height="8"/><rect x="1553.2" y="857" width="5.5" height="8"/><rect x="1568.5" y="857" width="5.5" height="8"/><rect x="1581.8" y="857" width="5.5" height="8"/><rect x="1593.5" y="857" width="5.5" height="8"/><rect x="1672.9" y="857" width="5.5" height="8"/><rect x="1713.2" y="857" width="5.5" height="8"/><rect x="1741.8" y="857" width="5.5" height="8"/><rect x="1763.9" y="857" width="5.5" height="8"/><rect x="1782.1" y="857" width="5.5" height="8"/><rect x="1797.4" y="857" width="5.5" height="8"/><rect x="1810.7" y="857" width="5.5" height="8"/><rect x="1822.4" y="857" width="5.5" height="8"/><rect x="1901.8" y="857" width="5.5" height="8"/><rect x="1942.1" y="857" width="5.5" height="8"/><rect x="1970.7" y="857" width="5.5" height="8"/><rect x="1992.8" y="857" width="5.5" height="8"/><rect x="2011" y="857" width="5.5" height="8"/><rect x="2026.3" y="857" width="5.5" height="8"/><rect x="2039.6" y="857" width="5.5" height="8"/><rect x="2051.3" y="857" width="5.5" height="8"/><rect x="2130.7" y="857" width="5.5" height="8"/><rect x="2171" y="857" width="5.5" height="8"/><rect x="2199.6" y="857" width="5.5" height="8"/><rect x="2221.7" y="857" width="5.5" height="8"/><rect x="2239.9" y="857" width="5.5" height="8"/><rect x="2255.2" y="857" width="5.5" height="8"/><rect x="2268.5" y="857" width="5.5" height="8"/><rect x="2280.2" y="857" width="5.5" height="8"/></g>
<g transform="matrix(0.9337,0,0,1.0000,91.00,0.60)"><text x="1377.8" y="918" text-anchor="middle" style="font-size:52px;font-weight:normal;letter-spacing:-3.5px;">0.01</text></g>
<g transform="matrix(0.9098,0,0,1.0000,144.03,0.60)"><text x="1606.7" y="918" text-anchor="middle" style="font-size:52px;font-weight:normal;letter-spacing:-3.5px;">0.1</text></g>
<g transform="matrix(0.8000,0,0,1.0000,366.00,0.60)"><text x="1835.6" y="918" text-anchor="middle" style="font-size:52px;font-weight:normal;letter-spacing:-3.5px;">1</text></g>
<g transform="matrix(0.9104,0,0,1.0000,183.47,0.60)"><text x="2064.5" y="918" text-anchor="middle" style="font-size:52px;font-weight:normal;letter-spacing:-3.5px;">10</text></g>
<g transform="matrix(0.9649,0,0,1.0000,78.87,0.60)"><text x="2293.4" y="918" text-anchor="middle" style="font-size:52px;font-weight:normal;letter-spacing:-3.5px;">100</text></g>
<g transform="matrix(0.9154,0,0,1.0378,112.52,-32.23)"><text x="1369.5" y="857.3" text-anchor="end" style="font-size:54px;font-weight:normal;letter-spacing:-2.5px;">0</text></g>
<g transform="matrix(0.9642,0,0,1.0378,45.71,-24.00)"><text x="1369.5" y="641.3" text-anchor="end" style="font-size:54px;font-weight:normal;letter-spacing:-2.5px;">50</text></g>
<g transform="matrix(0.9367,0,0,1.0378,83.31,-15.78)"><text x="1369.5" y="425.4" text-anchor="end" style="font-size:54px;font-weight:normal;letter-spacing:-2.5px;">100</text></g>
<g transform="matrix(0.9557,0,0,1.0378,57.30,-7.56)"><text x="1369.5" y="209.4" text-anchor="end" style="font-size:54px;font-weight:normal;letter-spacing:-2.5px;">150</text></g>
<g transform="matrix(1.0102,0,0,1.0073,-20.23,-7.49)"><text x="1624.1" y="990.5" text-anchor="start" style="font-size:60px;font-weight:bold;">Frequency / Hz</text></g>
<text transform="translate(1264.3,773.5) rotate(-90)" x="0" y="0" text-anchor="start" style="font-size:62.5px;font-weight:bold;">Capacitance / <tspan style="font-weight:normal;font-size:54px">(</tspan>F g<tspan dy="-31.6" style="font-size:34px;font-weight:normal">−</tspan><tspan dy="-1.7" style="font-size:43px;font-weight:normal">1</tspan><tspan dy="33.3" dx="-2" style="font-weight:normal;font-size:54px">)</tspan></text>
<g transform="matrix(1.0071,0,0,0.9962,-11.63,-1.02)"><text x="1160.1" y="82.3" text-anchor="start" style="font-size:84px;font-weight:bold;">(b)</text></g>
<line x1="1941" y1="182.4" x2="2020" y2="182.4" stroke="#000" stroke-width="5.2"/>
<circle cx="1980.2" cy="182.6" r="17.8" fill="url(#gb)"/>
<line x1="1941" y1="248.2" x2="2020" y2="248.2" stroke="#0000ff" stroke-width="5.2"/>
<circle cx="1980.5" cy="247.9" r="13.8" fill="#fff" stroke="#0000ff" stroke-width="8"/>
<g transform="matrix(1.0496,0,0,1.0455,-103.89,-8.57)"><text x="2028.4" y="193.4" text-anchor="start" style="font-size:49px;font-weight:bold;">HPC6</text></g>
<g transform="matrix(1.0262,0,0,1.1030,-56.25,-27.38)"><text x="2033.6" y="258.6" text-anchor="start" style="font-size:49px;font-weight:bold;">HPC8</text></g>
<g clip-path="url(#cc)"><polyline points="216.5,1463 234.8,1444.1 253.1,1430 271.3,1417.5 289.6,1403.4 307.9,1397.2 326.2,1389.4 344.5,1384.7 362.7,1381.6 381,1380 399.3,1376.9 417.6,1378.4 435.9,1376.9 454.1,1380 472.4,1381.6 490.7,1387.8 509,1394 527.3,1400.5 545.5,1407 563.8,1413 582.1,1419 600.4,1425 618.7,1433 636.9,1441.7 655.2,1450.7 673.5,1458.4 691.8,1464.7 710.1,1471.3 728.3,1476.6 746.6,1482.5 764.9,1483 783.2,1481 801.5,1476 819.7,1466.5 838,1450.5 856.3,1426.8 874.6,1398.6 892.9,1361.4 911.1,1329.3 929.4,1293.4 947.7,1257.5 966,1225.4 984.3,1195.4 1002.5,1168.9 1020.8,1145.8 1039.1,1126.6 1057.4,1109.1 1075.7,1093.2 1093.9,1077.8 1112.2,1062 1130.5,1047" fill="none" stroke="#000" stroke-width="6" stroke-linejoin="round" stroke-linecap="round"/><circle cx="1130.5" cy="1047" r="18.5" fill="url(#gb)"/><circle cx="1112.2" cy="1062" r="18.5" fill="url(#gb)"/><circle cx="1093.9" cy="1077.8" r="18.5" fill="url(#gb)"/><circle cx="1075.7" cy="1093.2" r="18.5" fill="url(#gb)"/><circle cx="1057.4" cy="1109.1" r="18.5" fill="url(#gb)"/><circle cx="1039.1" cy="1126.6" r="18.5" fill="url(#gb)"/><circle cx="1020.8" cy="1145.8" r="18.5" fill="url(#gb)"/><circle cx="1002.5" cy="1168.9" r="18.5" fill="url(#gb)"/><circle cx="984.3" cy="1195.4" r="18.5" fill="url(#gb)"/><circle cx="966" cy="1225.4" r="18.5" fill="url(#gb)"/><circle cx="947.7" cy="1257.5" r="18.5" fill="url(#gb)"/><circle cx="929.4" cy="1293.4" r="18.5" fill="url(#gb)"/><circle cx="911.1" cy="1329.3" r="18.5" fill="url(#gb)"/><circle cx="892.9" cy="1361.4" r="18.5" fill="url(#gb)"/><circle cx="874.6" cy="1398.6" r="18.5" fill="url(#gb)"/><circle cx="856.3" cy="1426.8" r="18.5" fill="url(#gb)"/><circle cx="838" cy="1450.5" r="18.5" fill="url(#gb)"/><circle cx="819.7" cy="1466.5" r="18.5" fill="url(#gb)"/><circle cx="801.5" cy="1476" r="18.5" fill="url(#gb)"/><circle cx="783.2" cy="1481" r="18.5" fill="url(#gb)"/><circle cx="764.9" cy="1483" r="18.5" fill="url(#gb)"/><circle cx="746.6" cy="1482.5" r="18.5" fill="url(#gb)"/><circle cx="728.3" cy="1476.6" r="18.5" fill="url(#gb)"/><circle cx="710.1" cy="1471.3" r="18.5" fill="url(#gb)"/><circle cx="691.8" cy="1464.7" r="18.5" fill="url(#gb)"/><circle cx="673.5" cy="1458.4" r="18.5" fill="url(#gb)"/><circle cx="655.2" cy="1450.7" r="18.5" fill="url(#gb)"/><circle cx="636.9" cy="1441.7" r="18.5" fill="url(#gb)"/><circle cx="618.7" cy="1433" r="18.5" fill="url(#gb)"/><circle cx="600.4" cy="1425" r="18.5" fill="url(#gb)"/><circle cx="582.1" cy="1419" r="18.5" fill="url(#gb)"/><circle cx="563.8" cy="1413" r="18.5" fill="url(#gb)"/><circle cx="545.5" cy="1407" r="18.5" fill="url(#gb)"/><circle cx="527.3" cy="1400.5" r="18.5" fill="url(#gb)"/><circle cx="509" cy="1394" r="18.5" fill="url(#gb)"/><circle cx="490.7" cy="1387.8" r="18.5" fill="url(#gb)"/><circle cx="472.4" cy="1381.6" r="18.5" fill="url(#gb)"/><circle cx="454.1" cy="1380" r="18.5" fill="url(#gb)"/><circle cx="435.9" cy="1376.9" r="18.5" fill="url(#gb)"/><circle cx="417.6" cy="1378.4" r="18.5" fill="url(#gb)"/><circle cx="399.3" cy="1376.9" r="18.5" fill="url(#gb)"/><circle cx="381" cy="1380" r="18.5" fill="url(#gb)"/><circle cx="362.7" cy="1381.6" r="18.5" fill="url(#gb)"/><circle cx="344.5" cy="1384.7" r="18.5" fill="url(#gb)"/><circle cx="326.2" cy="1389.4" r="18.5" fill="url(#gb)"/><circle cx="307.9" cy="1397.2" r="18.5" fill="url(#gb)"/><circle cx="289.6" cy="1403.4" r="18.5" fill="url(#gb)"/><circle cx="271.3" cy="1417.5" r="18.5" fill="url(#gb)"/><circle cx="253.1" cy="1430" r="18.5" fill="url(#gb)"/><circle cx="234.8" cy="1444.1" r="18.5" fill="url(#gb)"/><circle cx="216.5" cy="1463" r="18.5" fill="url(#gb)"/><polyline points="216.5,1793.8 234.8,1790.6 253.1,1787.5 271.3,1782.8 289.6,1775 307.9,1764 326.2,1746.9 344.5,1726.6 362.7,1701.6 381,1679.7 399.3,1648.4 417.6,1617.2 435.9,1578.1 454.1,1543.8 472.4,1506.3 490.7,1468.8 509,1428.1 527.3,1387.7 545.5,1349 563.8,1310.6 582.1,1273.1 600.4,1239.7 618.7,1209.7 636.9,1183.7 655.2,1160.9 673.5,1142.2 691.8,1128 710.1,1117.8 728.3,1110 746.6,1106.2 764.9,1106.2 783.2,1107.5 801.5,1111.3 819.7,1117.8 838,1125.5 856.3,1134.5 874.6,1139.6 892.9,1138.3 911.1,1134.5 929.4,1124.2 947.7,1112 966,1100 984.3,1088 1002.5,1076 1020.8,1066 1039.1,1056 1057.4,1046 1075.7,1036 1093.9,1026 1112.2,1016 1130.5,1006" fill="none" stroke="#0000ff" stroke-width="6" stroke-linejoin="round" stroke-linecap="round"/><circle cx="1130.5" cy="1006" r="13.9" fill="#fff" stroke="#0000ff" stroke-width="8"/><circle cx="1112.2" cy="1016" r="13.9" fill="#fff" stroke="#0000ff" stroke-width="8"/><circle cx="1093.9" cy="1026" r="13.9" fill="#fff" stroke="#0000ff" stroke-width="8"/><circle cx="1075.7" cy="1036" r="13.9" fill="#fff" stroke="#0000ff" stroke-width="8"/><circle cx="1057.4" cy="1046" r="13.9" fill="#fff" stroke="#0000ff" stroke-width="8"/><circle cx="1039.1" cy="1056" r="13.9" fill="#fff" stroke="#0000ff" stroke-width="8"/><circle cx="1020.8" cy="1066" r="13.9" fill="#fff" stroke="#0000ff" stroke-width="8"/><circle cx="1002.5" cy="1076" r="13.9" fill="#fff" stroke="#0000ff" stroke-width="8"/><circle cx="984.3" cy="1088" r="13.9" fill="#fff" stroke="#0000ff" stroke-width="8"/><circle cx="966" cy="1100" r="13.9" fill="#fff" stroke="#0000ff" stroke-width="8"/><circle cx="947.7" cy="1112" r="13.9" fill="#fff" stroke="#0000ff" stroke-width="8"/><circle cx="929.4" cy="1124.2" r="13.9" fill="#fff" stroke="#0000ff" stroke-width="8"/><circle cx="911.1" cy="1134.5" r="13.9" fill="#fff" stroke="#0000ff" stroke-width="8"/><circle cx="892.9" cy="1138.3" r="13.9" fill="#fff" stroke="#0000ff" stroke-width="8"/><circle cx="874.6" cy="1139.6" r="13.9" fill="#fff" stroke="#0000ff" stroke-width="8"/><circle cx="856.3" cy="1134.5" r="13.9" fill="#fff" stroke="#0000ff" stroke-width="8"/><circle cx="838" cy="1125.5" r="13.9" fill="#fff" stroke="#0000ff" stroke-width="8"/><circle cx="819.7" cy="1117.8" r="13.9" fill="#fff" stroke="#0000ff" stroke-width="8"/><circle cx="801.5" cy="1111.3" r="13.9" fill="#fff" stroke="#0000ff" stroke-width="8"/><circle cx="783.2" cy="1107.5" r="13.9" fill="#fff" stroke="#0000ff" stroke-width="8"/><circle cx="764.9" cy="1106.2" r="13.9" fill="#fff" stroke="#0000ff" stroke-width="8"/><circle cx="746.6" cy="1106.2" r="13.9" fill="#fff" stroke="#0000ff" stroke-width="8"/><circle cx="728.3" cy="1110" r="13.9" fill="#fff" stroke="#0000ff" stroke-width="8"/><circle cx="710.1" cy="1117.8" r="13.9" fill="#fff" stroke="#0000ff" stroke-width="8"/><circle cx="691.8" cy="1128" r="13.9" fill="#fff" stroke="#0000ff" stroke-width="8"/><circle cx="673.5" cy="1142.2" r="13.9" fill="#fff" stroke="#0000ff" stroke-width="8"/><circle cx="655.2" cy="1160.9" r="13.9" fill="#fff" stroke="#0000ff" stroke-width="8"/><circle cx="636.9" cy="1183.7" r="13.9" fill="#fff" stroke="#0000ff" stroke-width="8"/><circle cx="618.7" cy="1209.7" r="13.9" fill="#fff" stroke="#0000ff" stroke-width="8"/><circle cx="600.4" cy="1239.7" r="13.9" fill="#fff" stroke="#0000ff" stroke-width="8"/><circle cx="582.1" cy="1273.1" r="13.9" fill="#fff" stroke="#0000ff" stroke-width="8"/><circle cx="563.8" cy="1310.6" r="13.9" fill="#fff" stroke="#0000ff" stroke-width="8"/><circle cx="545.5" cy="1349" r="13.9" fill="#fff" stroke="#0000ff" stroke-width="8"/><circle cx="527.3" cy="1387.7" r="13.9" fill="#fff" stroke="#0000ff" stroke-width="8"/><circle cx="509" cy="1428.1" r="13.9" fill="#fff" stroke="#0000ff" stroke-width="8"/><circle cx="490.7" cy="1468.8" r="13.9" fill="#fff" stroke="#0000ff" stroke-width="8"/><circle cx="472.4" cy="1506.3" r="13.9" fill="#fff" stroke="#0000ff" stroke-width="8"/><circle cx="454.1" cy="1543.8" r="13.9" fill="#fff" stroke="#0000ff" stroke-width="8"/><circle cx="435.9" cy="1578.1" r="13.9" fill="#fff" stroke="#0000ff" stroke-width="8"/><circle cx="417.6" cy="1617.2" r="13.9" fill="#fff" stroke="#0000ff" stroke-width="8"/><circle cx="399.3" cy="1648.4" r="13.9" fill="#fff" stroke="#0000ff" stroke-width="8"/><circle cx="381" cy="1679.7" r="13.9" fill="#fff" stroke="#0000ff" stroke-width="8"/><circle cx="362.7" cy="1701.6" r="13.9" fill="#fff" stroke="#0000ff" stroke-width="8"/><circle cx="344.5" cy="1726.6" r="13.9" fill="#fff" stroke="#0000ff" stroke-width="8"/><circle cx="326.2" cy="1746.9" r="13.9" fill="#fff" stroke="#0000ff" stroke-width="8"/><circle cx="307.9" cy="1764" r="13.9" fill="#fff" stroke="#0000ff" stroke-width="8"/><circle cx="289.6" cy="1775" r="13.9" fill="#fff" stroke="#0000ff" stroke-width="8"/><circle cx="271.3" cy="1782.8" r="13.9" fill="#fff" stroke="#0000ff" stroke-width="8"/><circle cx="253.1" cy="1787.5" r="13.9" fill="#fff" stroke="#0000ff" stroke-width="8"/><circle cx="234.8" cy="1790.6" r="13.9" fill="#fff" stroke="#0000ff" stroke-width="8"/><circle cx="216.5" cy="1793.8" r="13.9" fill="#fff" stroke="#0000ff" stroke-width="8"/></g>
<g fill="#000"><rect x="214" y="1064" width="922" height="5"/><rect x="214" y="1863" width="922" height="5"/><rect x="214" y="1064" width="5" height="804"/><rect x="1128" y="1064" width="8" height="804"/></g>
<g fill="#000"><rect x="217" y="1163.4" width="18" height="6"/><rect x="217" y="1363.1" width="18" height="6"/><rect x="217" y="1562.9" width="18" height="6"/><rect x="217" y="1762.6" width="18" height="6"/></g>
<g fill="#000"><rect x="217" y="1263.2" width="10" height="6"/><rect x="217" y="1463" width="10" height="6"/><rect x="217" y="1662.8" width="10" height="6"/></g>
<g fill="#000"><rect x="396.3" y="1847" width="6" height="18"/><rect x="579.1" y="1847" width="6" height="18"/><rect x="761.9" y="1847" width="6" height="18"/><rect x="944.7" y="1847" width="6" height="18"/></g>
<g fill="#000"><rect x="268.5" y="1855" width="6" height="10"/><rect x="300.7" y="1855" width="6" height="10"/><rect x="323.6" y="1855" width="6" height="10"/><rect x="341.3" y="1855" width="6" height="10"/><rect x="355.7" y="1855" width="6" height="10"/><rect x="368" y="1855" width="6" height="10"/><rect x="378.6" y="1855" width="6" height="10"/><rect x="387.9" y="1855" width="6" height="10"/><rect x="451.3" y="1855" width="6" height="10"/><rect x="483.5" y="1855" width="6" height="10"/><rect x="506.4" y="1855" width="6" height="10"/><rect x="524.1" y="1855" width="6" height="10"/><rect x="538.5" y="1855" width="6" height="10"/><rect x="550.8" y="1855" width="6" height="10"/><rect x="561.4" y="1855" width="6" height="10"/><rect x="570.7" y="1855" width="6" height="10"/><rect x="634.1" y="1855" width="6" height="10"/><rect x="666.3" y="1855" width="6" height="10"/><rect x="689.2" y="1855" width="6" height="10"/><rect x="706.9" y="1855" width="6" height="10"/><rect x="721.3" y="1855" width="6" height="10"/><rect x="733.6" y="1855" width="6" height="10"/><rect x="744.2" y="1855" width="6" height="10"/><rect x="753.5" y="1855" width="6" height="10"/><rect x="816.9" y="1855" width="6" height="10"/><rect x="849.1" y="1855" width="6" height="10"/><rect x="872" y="1855" width="6" height="10"/><rect x="889.7" y="1855" width="6" height="10"/><rect x="904.1" y="1855" width="6" height="10"/><rect x="916.4" y="1855" width="6" height="10"/><rect x="927" y="1855" width="6" height="10"/><rect x="936.3" y="1855" width="6" height="10"/><rect x="999.7" y="1855" width="6" height="10"/><rect x="1031.9" y="1855" width="6" height="10"/><rect x="1054.8" y="1855" width="6" height="10"/><rect x="1072.5" y="1855" width="6" height="10"/><rect x="1086.9" y="1855" width="6" height="10"/><rect x="1099.2" y="1855" width="6" height="10"/><rect x="1109.8" y="1855" width="6" height="10"/><rect x="1119.1" y="1855" width="6" height="10"/></g>
<g transform="matrix(0.9630,0,0,1.0244,5.97,-47.07)"><text x="216.5" y="1930" text-anchor="middle" style="font-size:60px;font-weight:normal;letter-spacing:-4px;">0.01</text></g>
<g transform="matrix(0.9029,0,0,1.0244,36.65,-47.07)"><text x="399.3" y="1930" text-anchor="middle" style="font-size:60px;font-weight:normal;letter-spacing:-4px;">0.1</text></g>
<g transform="matrix(0.8000,0,0,1.0244,113.50,-47.07)"><text x="582.1" y="1930" text-anchor="middle" style="font-size:60px;font-weight:normal;letter-spacing:-4px;">1</text></g>
<g transform="matrix(0.9232,0,0,1.0244,55.27,-47.07)"><text x="764.9" y="1930" text-anchor="middle" style="font-size:60px;font-weight:normal;letter-spacing:-4px;">10</text></g>
<g transform="matrix(0.9907,0,0,1.0244,4.95,-47.07)"><text x="947.7" y="1930" text-anchor="middle" style="font-size:60px;font-weight:normal;letter-spacing:-4px;">100</text></g>
<g transform="matrix(1.0226,0,0,1.0244,-29.23,-47.07)"><text x="1130.5" y="1930" text-anchor="middle" style="font-size:60px;font-weight:normal;letter-spacing:-4px;">1000</text></g>
<g transform="matrix(1.0488,0,0,1.0317,-9.91,-38.22)"><text x="199.5" y="1180.9" text-anchor="end" style="font-size:60px;font-weight:normal;">-20</text></g>
<g transform="matrix(1.0488,0,0,1.0317,-9.91,-44.81)"><text x="199.5" y="1380.6" text-anchor="end" style="font-size:60px;font-weight:normal;">-40</text></g>
<g transform="matrix(1.0488,0,0,1.0317,-9.91,-50.37)"><text x="199.5" y="1580.4" text-anchor="end" style="font-size:60px;font-weight:normal;">-60</text></g>
<g transform="matrix(1.0488,0,0,1.0317,-9.91,-56.96)"><text x="199.5" y="1780.1" text-anchor="end" style="font-size:60px;font-weight:normal;">-80</text></g>
<g transform="matrix(1.0124,0,0,0.9847,-9.01,31.52)"><text x="449.3" y="2014.3" text-anchor="start" style="font-size:63.3px;font-weight:bold;">Frequency / Hz</text></g>
<g transform="matrix(1.0158,0,0,1.0122,-2.11,-16.67)"><text transform="translate(88.9,1657) rotate(-90)" x="0" y="0" text-anchor="start" style="font-size:62px;font-weight:bold;">Phase / deg</text></g>
<g transform="matrix(1.0582,0,0,0.9829,-5.87,16.32)"><text x="34.9" y="1089.3" text-anchor="start" style="font-size:81px;font-weight:bold;">(c)</text></g>
<g clip-path="url(#cd)"><polyline points="1396,1155.8 1432.6,1179.4 1469.2,1204 1505.8,1226.3 1542.4,1249.1 1579,1271.4 1615.6,1294.8 1652.2,1318.7 1688.8,1341.1 1725.4,1365 1762,1390 1798.6,1416.8 1835.2,1444.5 1871.8,1474.2 1908.4,1504.7 1945,1537.5 1981.6,1571.4 2018.2,1601.7 2054.8,1632.1 2091.4,1651.8 2128,1666.6 2164.6,1677.2 2201.2,1685.4 2237.8,1690.4 2274.4,1694.5" fill="none" stroke="#000" stroke-width="6" stroke-linejoin="round" stroke-linecap="round"/><circle cx="2274.4" cy="1694.5" r="18.5" fill="url(#gb)"/><circle cx="2237.8" cy="1690.4" r="18.5" fill="url(#gb)"/><circle cx="2201.2" cy="1685.4" r="18.5" fill="url(#gb)"/><circle cx="2164.6" cy="1677.2" r="18.5" fill="url(#gb)"/><circle cx="2128" cy="1666.6" r="18.5" fill="url(#gb)"/><circle cx="2091.4" cy="1651.8" r="18.5" fill="url(#gb)"/><circle cx="2054.8" cy="1632.1" r="18.5" fill="url(#gb)"/><circle cx="2018.2" cy="1601.7" r="18.5" fill="url(#gb)"/><circle cx="1981.6" cy="1571.4" r="18.5" fill="url(#gb)"/><circle cx="1945" cy="1537.5" r="18.5" fill="url(#gb)"/><circle cx="1908.4" cy="1504.7" r="18.5" fill="url(#gb)"/><circle cx="1871.8" cy="1474.2" r="18.5" fill="url(#gb)"/><circle cx="1835.2" cy="1444.5" r="18.5" fill="url(#gb)"/><circle cx="1798.6" cy="1416.8" r="18.5" fill="url(#gb)"/><circle cx="1762" cy="1390" r="18.5" fill="url(#gb)"/><circle cx="1725.4" cy="1365" r="18.5" fill="url(#gb)"/><circle cx="1688.8" cy="1341.1" r="18.5" fill="url(#gb)"/><circle cx="1652.2" cy="1318.7" r="18.5" fill="url(#gb)"/><circle cx="1615.6" cy="1294.8" r="18.5" fill="url(#gb)"/><circle cx="1579" cy="1271.4" r="18.5" fill="url(#gb)"/><circle cx="1542.4" cy="1249.1" r="18.5" fill="url(#gb)"/><circle cx="1505.8" cy="1226.3" r="18.5" fill="url(#gb)"/><circle cx="1469.2" cy="1204" r="18.5" fill="url(#gb)"/><circle cx="1432.6" cy="1179.4" r="18.5" fill="url(#gb)"/><circle cx="1396" cy="1155.8" r="18.5" fill="url(#gb)"/><polyline points="1378,1217 1396.3,1242.9 1414.6,1271.9 1432.9,1295.3 1451.2,1319.9 1469.5,1343.3 1487.8,1365.6 1506.1,1390.2 1524.4,1411.4 1542.7,1434.8 1561,1457.1 1579.3,1479.5 1597.6,1498 1615.9,1513.6 1634.2,1531.2 1652.5,1546.4 1670.8,1560.5 1689.1,1572.2 1707.4,1583.9 1725.7,1594.4 1744,1603.8 1762.3,1610.8 1780.6,1616.7 1798.9,1621.4 1817.2,1624.9 1835.5,1628.4 1853.8,1631.9 1872.1,1634.3 1890.4,1637.8 1908.7,1641.3 1927,1644.8 1945.3,1647.2 1963.6,1649 1981.9,1652.5 2000.2,1656.8 2018.5,1660.1 2036.8,1665 2055.1,1671.6 2073.4,1678.1 2091.7,1684.7 2110,1691.3 2128.3,1696.2 2146.6,1701.1 2164.9,1703.6 2183.2,1706 2201.5,1708.5 2219.8,1710.1 2238.1,1711.8 2256.4,1712.6 2274.7,1713.4 2293,1714.3" fill="none" stroke="#0000ff" stroke-width="6" stroke-linejoin="round" stroke-linecap="round"/><circle cx="2293" cy="1714.3" r="13.9" fill="#fff" stroke="#0000ff" stroke-width="8"/><circle cx="2274.7" cy="1713.4" r="13.9" fill="#fff" stroke="#0000ff" stroke-width="8"/><circle cx="2256.4" cy="1712.6" r="13.9" fill="#fff" stroke="#0000ff" stroke-width="8"/><circle cx="2238.1" cy="1711.8" r="13.9" fill="#fff" stroke="#0000ff" stroke-width="8"/><circle cx="2219.8" cy="1710.1" r="13.9" fill="#fff" stroke="#0000ff" stroke-width="8"/><circle cx="2201.5" cy="1708.5" r="13.9" fill="#fff" stroke="#0000ff" stroke-width="8"/><circle cx="2183.2" cy="1706" r="13.9" fill="#fff" stroke="#0000ff" stroke-width="8"/><circle cx="2164.9" cy="1703.6" r="13.9" fill="#fff" stroke="#0000ff" stroke-width="8"/><circle cx="2146.6" cy="1701.1" r="13.9" fill="#fff" stroke="#0000ff" stroke-width="8"/><circle cx="2128.3" cy="1696.2" r="13.9" fill="#fff" stroke="#0000ff" stroke-width="8"/><circle cx="2110" cy="1691.3" r="13.9" fill="#fff" stroke="#0000ff" stroke-width="8"/><circle cx="2091.7" cy="1684.7" r="13.9" fill="#fff" stroke="#0000ff" stroke-width="8"/><circle cx="2073.4" cy="1678.1" r="13.9" fill="#fff" stroke="#0000ff" stroke-width="8"/><circle cx="2055.1" cy="1671.6" r="13.9" fill="#fff" stroke="#0000ff" stroke-width="8"/><circle cx="2036.8" cy="1665" r="13.9" fill="#fff" stroke="#0000ff" stroke-width="8"/><circle cx="2018.5" cy="1660.1" r="13.9" fill="#fff" stroke="#0000ff" stroke-width="8"/><circle cx="2000.2" cy="1656.8" r="13.9" fill="#fff" stroke="#0000ff" stroke-width="8"/><circle cx="1981.9" cy="1652.5" r="13.9" fill="#fff" stroke="#0000ff" stroke-width="8"/><circle cx="1963.6" cy="1649" r="13.9" fill="#fff" stroke="#0000ff" stroke-width="8"/><circle cx="1945.3" cy="1647.2" r="13.9" fill="#fff" stroke="#0000ff" stroke-width="8"/><circle cx="1927" cy="1644.8" r="13.9" fill="#fff" stroke="#0000ff" stroke-width="8"/><circle cx="1908.7" cy="1641.3" r="13.9" fill="#fff" stroke="#0000ff" stroke-width="8"/><circle cx="1890.4" cy="1637.8" r="13.9" fill="#fff" stroke="#0000ff" stroke-width="8"/><circle cx="1872.1" cy="1634.3" r="13.9" fill="#fff" stroke="#0000ff" stroke-width="8"/><circle cx="1853.8" cy="1631.9" r="13.9" fill="#fff" stroke="#0000ff" stroke-width="8"/><circle cx="1835.5" cy="1628.4" r="13.9" fill="#fff" stroke="#0000ff" stroke-width="8"/><circle cx="1817.2" cy="1624.9" r="13.9" fill="#fff" stroke="#0000ff" stroke-width="8"/><circle cx="1798.9" cy="1621.4" r="13.9" fill="#fff" stroke="#0000ff" stroke-width="8"/><circle cx="1780.6" cy="1616.7" r="13.9" fill="#fff" stroke="#0000ff" stroke-width="8"/><circle cx="1762.3" cy="1610.8" r="13.9" fill="#fff" stroke="#0000ff" stroke-width="8"/><circle cx="1744" cy="1603.8" r="13.9" fill="#fff" stroke="#0000ff" stroke-width="8"/><circle cx="1725.7" cy="1594.4" r="13.9" fill="#fff" stroke="#0000ff" stroke-width="8"/><circle cx="1707.4" cy="1583.9" r="13.9" fill="#fff" stroke="#0000ff" stroke-width="8"/><circle cx="1689.1" cy="1572.2" r="13.9" fill="#fff" stroke="#0000ff" stroke-width="8"/><circle cx="1670.8" cy="1560.5" r="13.9" fill="#fff" stroke="#0000ff" stroke-width="8"/><circle cx="1652.5" cy="1546.4" r="13.9" fill="#fff" stroke="#0000ff" stroke-width="8"/><circle cx="1634.2" cy="1531.2" r="13.9" fill="#fff" stroke="#0000ff" stroke-width="8"/><circle cx="1615.9" cy="1513.6" r="13.9" fill="#fff" stroke="#0000ff" stroke-width="8"/><circle cx="1597.6" cy="1498" r="13.9" fill="#fff" stroke="#0000ff" stroke-width="8"/><circle cx="1579.3" cy="1479.5" r="13.9" fill="#fff" stroke="#0000ff" stroke-width="8"/><circle cx="1561" cy="1457.1" r="13.9" fill="#fff" stroke="#0000ff" stroke-width="8"/><circle cx="1542.7" cy="1434.8" r="13.9" fill="#fff" stroke="#0000ff" stroke-width="8"/><circle cx="1524.4" cy="1411.4" r="13.9" fill="#fff" stroke="#0000ff" stroke-width="8"/><circle cx="1506.1" cy="1390.2" r="13.9" fill="#fff" stroke="#0000ff" stroke-width="8"/><circle cx="1487.8" cy="1365.6" r="13.9" fill="#fff" stroke="#0000ff" stroke-width="8"/><circle cx="1469.5" cy="1343.3" r="13.9" fill="#fff" stroke="#0000ff" stroke-width="8"/><circle cx="1451.2" cy="1319.9" r="13.9" fill="#fff" stroke="#0000ff" stroke-width="8"/><circle cx="1432.9" cy="1295.3" r="13.9" fill="#fff" stroke="#0000ff" stroke-width="8"/><circle cx="1414.6" cy="1271.9" r="13.9" fill="#fff" stroke="#0000ff" stroke-width="8"/><circle cx="1396.3" cy="1242.9" r="13.9" fill="#fff" stroke="#0000ff" stroke-width="8"/><circle cx="1378" cy="1217" r="13.9" fill="#fff" stroke="#0000ff" stroke-width="8"/></g>
<g fill="#000"><rect x="1375" y="1066.5" width="922" height="7.5"/><rect x="1375" y="1868" width="922" height="6"/><rect x="1375" y="1066.5" width="5.7000000000000455" height="807.5"/><rect x="2289" y="1066.5" width="8" height="807.5"/></g>
<g fill="#000"><rect x="1378.7" y="1657" width="18" height="6"/><rect x="1378.7" y="1400.8" width="18" height="6"/><rect x="1378.7" y="1144.6" width="18" height="6"/></g>
<g fill="#000"><rect x="1378.7" y="1836.1" width="10" height="6"/><rect x="1378.7" y="1791" width="10" height="6"/><rect x="1378.7" y="1759" width="10" height="6"/><rect x="1378.7" y="1734.1" width="10" height="6"/><rect x="1378.7" y="1713.9" width="10" height="6"/><rect x="1378.7" y="1696.7" width="10" height="6"/><rect x="1378.7" y="1681.8" width="10" height="6"/><rect x="1378.7" y="1668.7" width="10" height="6"/><rect x="1378.7" y="1579.9" width="10" height="6"/><rect x="1378.7" y="1534.8" width="10" height="6"/><rect x="1378.7" y="1502.8" width="10" height="6"/><rect x="1378.7" y="1477.9" width="10" height="6"/><rect x="1378.7" y="1457.7" width="10" height="6"/><rect x="1378.7" y="1440.5" width="10" height="6"/><rect x="1378.7" y="1425.6" width="10" height="6"/><rect x="1378.7" y="1412.5" width="10" height="6"/><rect x="1378.7" y="1323.7" width="10" height="6"/><rect x="1378.7" y="1278.6" width="10" height="6"/><rect x="1378.7" y="1246.6" width="10" height="6"/><rect x="1378.7" y="1221.7" width="10" height="6"/><rect x="1378.7" y="1201.5" width="10" height="6"/><rect x="1378.7" y="1184.3" width="10" height="6"/><rect x="1378.7" y="1169.4" width="10" height="6"/><rect x="1378.7" y="1156.3" width="10" height="6"/></g>
<g fill="#000"><rect x="1558" y="1852" width="6" height="18"/><rect x="1741" y="1852" width="6" height="18"/><rect x="1924" y="1852" width="6" height="18"/><rect x="2107" y="1852" width="6" height="18"/></g>
<g fill="#000"><rect x="1430.1" y="1860" width="6" height="10"/><rect x="1462.3" y="1860" width="6" height="10"/><rect x="1485.2" y="1860" width="6" height="10"/><rect x="1502.9" y="1860" width="6" height="10"/><rect x="1517.4" y="1860" width="6" height="10"/><rect x="1529.7" y="1860" width="6" height="10"/><rect x="1540.3" y="1860" width="6" height="10"/><rect x="1549.6" y="1860" width="6" height="10"/><rect x="1613.1" y="1860" width="6" height="10"/><rect x="1645.3" y="1860" width="6" height="10"/><rect x="1668.2" y="1860" width="6" height="10"/><rect x="1685.9" y="1860" width="6" height="10"/><rect x="1700.4" y="1860" width="6" height="10"/><rect x="1712.7" y="1860" width="6" height="10"/><rect x="1723.3" y="1860" width="6" height="10"/><rect x="1732.6" y="1860" width="6" height="10"/><rect x="1796.1" y="1860" width="6" height="10"/><rect x="1828.3" y="1860" width="6" height="10"/><rect x="1851.2" y="1860" width="6" height="10"/><rect x="1868.9" y="1860" width="6" height="10"/><rect x="1883.4" y="1860" width="6" height="10"/><rect x="1895.7" y="1860" width="6" height="10"/><rect x="1906.3" y="1860" width="6" height="10"/><rect x="1915.6" y="1860" width="6" height="10"/><rect x="1979.1" y="1860" width="6" height="10"/><rect x="2011.3" y="1860" width="6" height="10"/><rect x="2034.2" y="1860" width="6" height="10"/><rect x="2051.9" y="1860" width="6" height="10"/><rect x="2066.4" y="1860" width="6" height="10"/><rect x="2078.7" y="1860" width="6" height="10"/><rect x="2089.3" y="1860" width="6" height="10"/><rect x="2098.6" y="1860" width="6" height="10"/><rect x="2162.1" y="1860" width="6" height="10"/><rect x="2194.3" y="1860" width="6" height="10"/><rect x="2217.2" y="1860" width="6" height="10"/><rect x="2234.9" y="1860" width="6" height="10"/><rect x="2249.4" y="1860" width="6" height="10"/><rect x="2261.7" y="1860" width="6" height="10"/><rect x="2272.3" y="1860" width="6" height="10"/><rect x="2281.6" y="1860" width="6" height="10"/></g>
<g transform="matrix(0.9727,0,0,1.0244,35.12,-47.32)"><text x="1378" y="1936" text-anchor="middle" style="font-size:60px;font-weight:normal;letter-spacing:-4px;">0.01</text></g>
<g transform="matrix(0.9029,0,0,1.0244,148.83,-47.32)"><text x="1561" y="1936" text-anchor="middle" style="font-size:60px;font-weight:normal;letter-spacing:-4px;">0.1</text></g>
<g transform="matrix(0.8000,0,0,1.0244,345.40,-47.32)"><text x="1744" y="1936" text-anchor="middle" style="font-size:60px;font-weight:normal;letter-spacing:-4px;">1</text></g>
<g transform="matrix(0.9232,0,0,1.0244,144.20,-47.32)"><text x="1927" y="1936" text-anchor="middle" style="font-size:60px;font-weight:normal;letter-spacing:-4px;">10</text></g>
<g transform="matrix(1.0024,0,0,1.0244,-9.47,-47.32)"><text x="2110" y="1936" text-anchor="middle" style="font-size:60px;font-weight:normal;letter-spacing:-4px;">100</text></g>
<g transform="matrix(1.0316,0,0,1.0244,-76.51,-47.32)"><text x="2293" y="1936" text-anchor="middle" style="font-size:60px;font-weight:normal;letter-spacing:-4px;">1000</text></g>
<g transform="matrix(0.9920,0,0,1.0317,7.95,-34.81)"><text x="1360" y="1159.6" text-anchor="end" style="font-size:60px;font-weight:normal;letter-spacing:-3px;">100</text></g>
<g transform="matrix(0.9386,0,0,1.0317,80.57,-42.73)"><text x="1360" y="1415.8" text-anchor="end" style="font-size:60px;font-weight:normal;letter-spacing:-3px;">10</text></g>
<g transform="matrix(0.8000,0,0,1.0317,270.90,-50.65)"><text x="1360" y="1672" text-anchor="end" style="font-size:60px;font-weight:normal;letter-spacing:-3px;">1</text></g>
<g transform="matrix(1.0106,0,0,0.9644,-21.11,71.78)"><text x="1611.7" y="2014.8" text-anchor="start" style="font-size:63.3px;font-weight:bold;">Frequency / Hz</text></g>
<g transform="matrix(1.0000,0,0,1.0624,-1.30,-97.89)"><text transform="translate(1250,1620.5) rotate(-90)" x="0" y="0" text-anchor="start" style="font-size:61px;font-weight:bold;"><tspan style="font-size:44.3px" dy="-9.8">|</tspan><tspan dy="9.8">Z</tspan><tspan style="font-size:44.3px" dy="-9.8">|</tspan><tspan dy="9.8"> / ohm</tspan></text></g>
<g transform="matrix(1.0737,0,0,0.9829,-90.62,17.05)"><text x="1176.9" y="1090.5" text-anchor="start" style="font-size:81px;font-weight:bold;">(d)</text></g>
</svg></body></html>
